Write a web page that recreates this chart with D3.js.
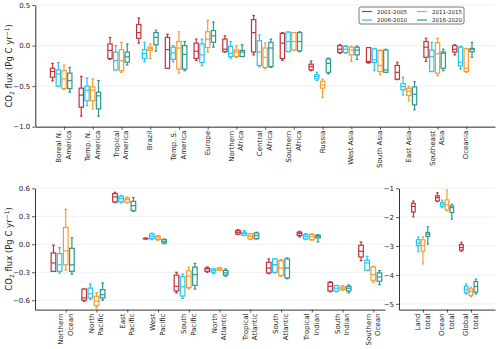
<!DOCTYPE html>
<html>
<head>
<meta charset="UTF-8">
<title>CO2 flux boxes</title>
<script src="https://cdn.jsdelivr.net/npm/d3@7"></script>
<style>
  body { margin: 0; background: #fff; }
  svg text { font-family: "DejaVu Sans", sans-serif; fill: #222; }
</style>
</head>
<body>
<div id="chart"></div>
<script>

// periods and colours
var periods = ['2001-2005', '2006-2010', '2011-2015', '2016-2020'];
var colors = ['#c0333a', '#22c6f5', '#fd9a26', '#2a9890'];

// category names (\n = line break)
var landCats = ['Boreal N.\nAmerica', 'Temp. N.\nAmerica', 'Tropical\nAmerica', 'Brazil', 'Temp. S.\nAmerica',
    'Europe', 'Northern\nAfrica', 'Central\nAfrica', 'Southern\nAfrica', 'Russia', 'West Asia', 'South Asia',
    'East Asia', 'Southeast\nAsia', 'Oceania'];
var oceanCats = ['Northern\nOcean', 'North\nPacific', 'East\nPacific', 'West\nPacific', 'South\nPacific',
    'North\nAtlantic', 'Tropical\nAtlantic', 'South\nAtlantic', 'Tropical\nIndian', 'South\nIndian', 'Southern\nOcean'];
var totalCats = ['Land\ntotal', 'Ocean\ntotal', 'Global\ntotal'];

// tick values
var landTicks = [-1.0, -0.5, 0.0, 0.5];
var oceanTicks = [-0.6, -0.3, 0.0, 0.3, 0.6];
var totalTicks = [-5, -4, -3, -2, -1];

// box stats: [low whisker, q1, median, q3, high whisker]
var land01 = [[-0.435,-0.39,-0.32,-0.28,-0.22],[-0.87,-0.76,-0.61,-0.525,-0.38],[-0.17,-0.16,-0.06,0.02,0.10],
    [0.03,0.09,0.16,0.26,0.34],[-0.28,-0.28,-0.05,0.10,0.14],[-0.185,-0.16,-0.07,0.03,0.08],[-0.08,-0.075,-0.045,0.08,0.12],
    [-0.115,-0.08,0.16,0.32,0.37],[-0.18,-0.16,0.03,0.15,0.16],[-0.31,-0.30,-0.26,-0.23,-0.19],[-0.095,-0.085,-0.045,0.0,0.01],
    [-0.215,-0.21,-0.195,-0.025,-0.025],[-0.42,-0.415,-0.33,-0.245,-0.205],[-0.195,-0.145,-0.02,0.05,0.09],[-0.115,-0.08,-0.045,0.0,0.01]];
var land06 = [[-0.50,-0.50,-0.35,-0.30,-0.21],[-0.74,-0.68,-0.55,-0.50,-0.40],[-0.30,-0.30,-0.185,-0.08,0.0],
    [-0.20,-0.16,-0.10,-0.05,0.04],[-0.20,-0.17,-0.09,-0.02,0.0],[-0.25,-0.21,-0.115,0.02,0.08],[-0.155,-0.135,-0.095,-0.01,0.05],
    [-0.26,-0.245,-0.08,0.06,0.13],[-0.075,-0.075,0.05,0.165,0.17],[-0.43,-0.41,-0.38,-0.36,-0.33],[-0.095,-0.085,-0.045,-0.01,0.0],
    [-0.31,-0.21,-0.175,-0.04,-0.035],[-0.61,-0.545,-0.505,-0.47,-0.39],[-0.32,-0.32,-0.135,-0.055,0.04],[-0.29,-0.25,-0.205,-0.02,-0.01]];
var land11 = [[-0.54,-0.53,-0.41,-0.31,-0.24],[-0.78,-0.68,-0.55,-0.51,-0.41],[-0.33,-0.31,-0.185,-0.05,0.04],
    [-0.16,-0.06,-0.04,-0.02,0.02],[-0.34,-0.29,-0.03,0.05,0.17],[-0.08,-0.025,0.08,0.17,0.31],[-0.145,-0.135,-0.08,-0.055,0.0],
    [-0.28,-0.27,-0.145,-0.03,0.03],[-0.055,-0.055,0.05,0.16,0.16],[-0.64,-0.525,-0.485,-0.44,-0.415],[-0.195,-0.115,-0.055,-0.02,-0.01],
    [-0.36,-0.32,-0.245,-0.06,-0.055],[-0.68,-0.615,-0.565,-0.525,-0.50],[-0.37,-0.34,-0.10,0.035,0.09],[-0.33,-0.32,-0.28,-0.04,-0.035]];
var land16 = [[-0.575,-0.53,-0.43,-0.34,-0.27],[-0.87,-0.78,-0.62,-0.575,-0.43],[-0.24,-0.205,-0.14,-0.08,0.02],
    [-0.07,0.01,0.10,0.16,0.19],[-0.31,-0.29,-0.11,0.0,0.05],[-0.02,0.04,0.12,0.185,0.29],[-0.135,-0.135,-0.08,-0.06,0.01],
    [-0.27,-0.26,-0.03,0.04,0.08],[-0.075,-0.065,0.05,0.16,0.17],[-0.35,-0.33,-0.22,-0.165,-0.155],[-0.17,-0.115,-0.055,-0.02,-0.005],
    [-0.33,-0.33,-0.30,-0.055,-0.045],[-0.79,-0.73,-0.60,-0.51,-0.445],[-0.31,-0.28,-0.095,-0.08,-0.045],[-0.145,-0.075,-0.045,-0.035,0.04]];

var ocean01 = [[-0.29,-0.29,-0.20,-0.093,-0.01],[-0.61,-0.60,-0.575,-0.48,-0.48],[0.45,0.454,0.507,0.543,0.557],
    [0.058,0.060,0.062,0.064,0.066],[-0.52,-0.50,-0.45,-0.33,-0.30],[-0.30,-0.29,-0.264,-0.254,-0.243],[0.104,0.11,0.129,0.146,0.157],
    [-0.314,-0.307,-0.254,-0.193,-0.157],[0.079,0.093,0.114,0.129,0.139],[-0.51,-0.50,-0.45,-0.41,-0.40],[-0.175,-0.136,-0.075,-0.011,0.025]];
var ocean06 = [[-0.31,-0.29,-0.22,-0.10,-0.036],[-0.59,-0.575,-0.53,-0.47,-0.425],[0.443,0.454,0.489,0.514,0.525],
    [0.05,0.06,0.086,0.11,0.12],[-0.58,-0.554,-0.455,-0.347,-0.32],[-0.314,-0.30,-0.28,-0.264,-0.264],[0.093,0.096,0.114,0.129,0.146],
    [-0.307,-0.30,-0.218,-0.157,-0.157],[0.05,0.057,0.086,0.104,0.114],[-0.51,-0.503,-0.47,-0.443,-0.44],[-0.279,-0.279,-0.20,-0.171,-0.129]];
var ocean11 = [[-0.275,-0.22,-0.072,0.18,0.375],[-0.68,-0.657,-0.61,-0.557,-0.52],[0.443,0.45,0.479,0.496,0.507],
    [0.043,0.05,0.068,0.086,0.093],[-0.48,-0.465,-0.34,-0.285,-0.245],[-0.28,-0.28,-0.264,-0.254,-0.254],[0.05,0.057,0.086,0.11,0.114],
    [-0.343,-0.336,-0.254,-0.175,-0.164],[0.043,0.05,0.079,0.104,0.114],[-0.493,-0.486,-0.47,-0.457,-0.443],[-0.407,-0.386,-0.325,-0.243,-0.236]];
var ocean16 = [[-0.32,-0.29,-0.22,-0.043,0.07],[-0.60,-0.575,-0.54,-0.486,-0.415],[0.354,0.36,0.414,0.46,0.50],
    [0.007,0.014,0.032,0.05,0.057],[-0.48,-0.44,-0.325,-0.245,-0.205],[-0.343,-0.33,-0.307,-0.28,-0.264],[0.057,0.06,0.093,0.12,0.129],
    [-0.37,-0.36,-0.254,-0.157,-0.146],[0.025,0.068,0.086,0.096,0.104],[-0.52,-0.50,-0.47,-0.45,-0.436],[-0.432,-0.396,-0.35,-0.307,-0.282]];

var total01 = [[-1.99,-1.82,-1.63,-1.52,-1.44],[-1.46,-1.44,-1.32,-1.26,-1.15],[-3.18,-3.14,-3.05,-2.95,-2.87]];
var total06 = [[-3.20,-2.99,-2.90,-2.78,-2.68],[-1.67,-1.63,-1.55,-1.49,-1.41],[-4.66,-4.62,-4.51,-4.39,-4.31]];
var total11 = [[-3.62,-3.18,-2.99,-2.78,-2.68],[-1.78,-1.75,-1.57,-1.40,-1.06],[-4.75,-4.71,-4.57,-4.48,-4.43]];
var total16 = [[-2.93,-2.67,-2.59,-2.53,-2.33],[-2.07,-1.84,-1.67,-1.61,-1.55],[-4.66,-4.60,-4.40,-4.23,-4.14]];


var width = 500, height = 349;
var svg = d3.select('#chart').append('svg')
    .attr('width', width)
    .attr('height', height);

var offsets = [-0.4, -0.2, 0, 0.2];
var boxW = 0.15;

function drawPanel(p) {
    var x = d3.scaleLinear().domain(p.xDomain).range([p.left, p.right]);
    var y = d3.scaleLinear().domain(p.yDomain).range([p.bottom, p.top]);
    var g = svg.append('g');

    // grid
    g.selectAll('line.grid')
        .data(p.yTicks)
        .enter().append('line')
        .attr('class', 'grid')
        .attr('x1', p.left).attr('x2', p.right)
        .attr('y1', function(d){ return y(d); })
        .attr('y2', function(d){ return y(d); })
        .attr('stroke', '#ececec')
        .attr('stroke-width', 0.8);

    var bw = x(boxW) - x(0);

    p.series.forEach(function(data, si){
        var col = colors[si];
        var sg = g.append('g').attr('stroke', col).attr('fill', 'none').attr('stroke-width', 1.2);
        var cx = function(d, i){ return x(i + 1 + offsets[si]); };

        // whiskers
        sg.selectAll('line.wlo').data(data).enter().append('line')
            .attr('x1', cx).attr('x2', cx)
            .attr('y1', function(d){ return y(d[1]); })
            .attr('y2', function(d){ return y(d[0]); });
        sg.selectAll('line.whi').data(data).enter().append('line')
            .attr('x1', cx).attr('x2', cx)
            .attr('y1', function(d){ return y(d[3]); })
            .attr('y2', function(d){ return y(d[4]); });
        // caps
        [0, 4].forEach(function(k){
            sg.selectAll('line.cap' + k).data(data).enter().append('line')
                .attr('x1', function(d, i){ return cx(d, i) - bw * 0.3; })
                .attr('x2', function(d, i){ return cx(d, i) + bw * 0.3; })
                .attr('y1', function(d){ return y(d[k]); })
                .attr('y2', function(d){ return y(d[k]); });
        });
        // box
        sg.selectAll('rect').data(data).enter().append('rect')
            .attr('x', function(d, i){ return cx(d, i) - bw / 2; })
            .attr('width', bw)
            .attr('y', function(d){ return y(d[3]); })
            .attr('height', function(d){ return Math.max(0.6, y(d[1]) - y(d[3])); })
            .attr('fill', '#fff');
        // median
        sg.selectAll('line.med').data(data).enter().append('line')
            .attr('x1', function(d, i){ return cx(d, i) - bw / 2; })
            .attr('x2', function(d, i){ return cx(d, i) + bw / 2; })
            .attr('y1', function(d){ return y(d[2]); })
            .attr('y2', function(d){ return y(d[2]); });
    });

    // axes
    var yAxis = d3.axisLeft(y).tickValues(p.yTicks).tickFormat(p.fmt).tickSize(3).tickSizeOuter(0).tickPadding(2);
    var ya = g.append('g').attr('transform', 'translate(' + p.left + ',0)').call(yAxis);
    var xAxis = d3.axisBottom(x).tickValues(d3.range(1, p.cats.length + 1)).tickFormat('').tickSize(3).tickSizeOuter(0);
    var xa = g.append('g').attr('transform', 'translate(0,' + p.bottom + ')').call(xAxis);
    [ya, xa].forEach(function(a){
        a.select('.domain').attr('stroke', '#333').attr('stroke-width', 1);
        a.selectAll('.tick line').attr('stroke', '#333').attr('stroke-width', 0.8);
        a.selectAll('.tick text').attr('font-size', 7).attr('fill', '#222').style('font-family', '"DejaVu Sans", sans-serif');
    });

    // category labels, rotated
    p.cats.forEach(function(c, i){
        var lines = c.split('\n');
        var t = g.append('text')
            .attr('transform', 'translate(' + x(i + 1) + ',' + (p.bottom + 4) + ') rotate(-90)')
            .attr('text-anchor', 'end')
            .attr('font-size', 7);
        lines.forEach(function(l, j){
            t.append('tspan')
                .attr('x', 0)
                .attr('y', (j - (lines.length - 1) / 2) * 9.5)
                .attr('dominant-baseline', 'central')
                .text(l);
        });
    });

    // y label
    if (p.ylabel) {
        var lab = g.append('text')
            .attr('transform', 'translate(12,' + ((p.top + p.bottom) / 2) + ') rotate(-90)')
            .attr('text-anchor', 'middle')
            .attr('font-size', 8.5);
        lab.append('tspan').text('CO');
        lab.append('tspan').attr('font-size', 6).attr('dy', 2).text('2');
        lab.append('tspan').attr('dy', -2).text(' flux (Pg C yr');
        lab.append('tspan').attr('font-size', 6).attr('dy', -3).text('−1');
        lab.append('tspan').attr('dy', 3).text(')');
    }
}

drawPanel({
    cats: landCats, series: [land01, land06, land11, land16],
    xDomain: [0, 16], left: 35.3, right: 495,
    yDomain: [-1, 0.5], top: 5, bottom: 126.7,
    yTicks: landTicks, fmt: d3.format('.1f'), ylabel: true
});
drawPanel({
    cats: oceanCats, series: [ocean01, ocean06, ocean11, ocean16],
    xDomain: [0, 11.38], left: 35, right: 385,
    yDomain: [-0.7, 0.6], top: 188.3, bottom: 309.6,
    yTicks: oceanTicks, fmt: d3.format('.1f'), ylabel: true
});
drawPanel({
    cats: totalCats, series: [total01, total06, total11, total16],
    xDomain: [0, 4], left: 399, right: 495,
    yDomain: [-5.2, -1], top: 188.3, bottom: 309.6,
    yTicks: totalTicks, fmt: d3.format('d'), ylabel: false
});

// legend
var leg = svg.append('g').attr('transform', 'translate(359,7)');
leg.append('rect')
    .attr('width', 105).attr('height', 17).attr('rx', 2)
    .attr('fill', '#fff').attr('stroke', '#555').attr('stroke-width', 0.8);
periods.forEach(function(p, i){
    var col = Math.floor(i / 2), row = i % 2;
    var lx = 3 + col * 55, ly = 4.5 + row * 8.5;
    leg.append('line')
        .attr('x1', lx).attr('x2', lx + 10)
        .attr('y1', ly).attr('y2', ly)
        .attr('stroke', colors[i]).attr('stroke-width', 1.2);
    leg.append('text')
        .attr('x', lx + 15).attr('y', ly)
        .attr('dominant-baseline', 'central')
        .attr('font-size', 5.5)
        .text(p);
});
</script>
</body>
</html>
